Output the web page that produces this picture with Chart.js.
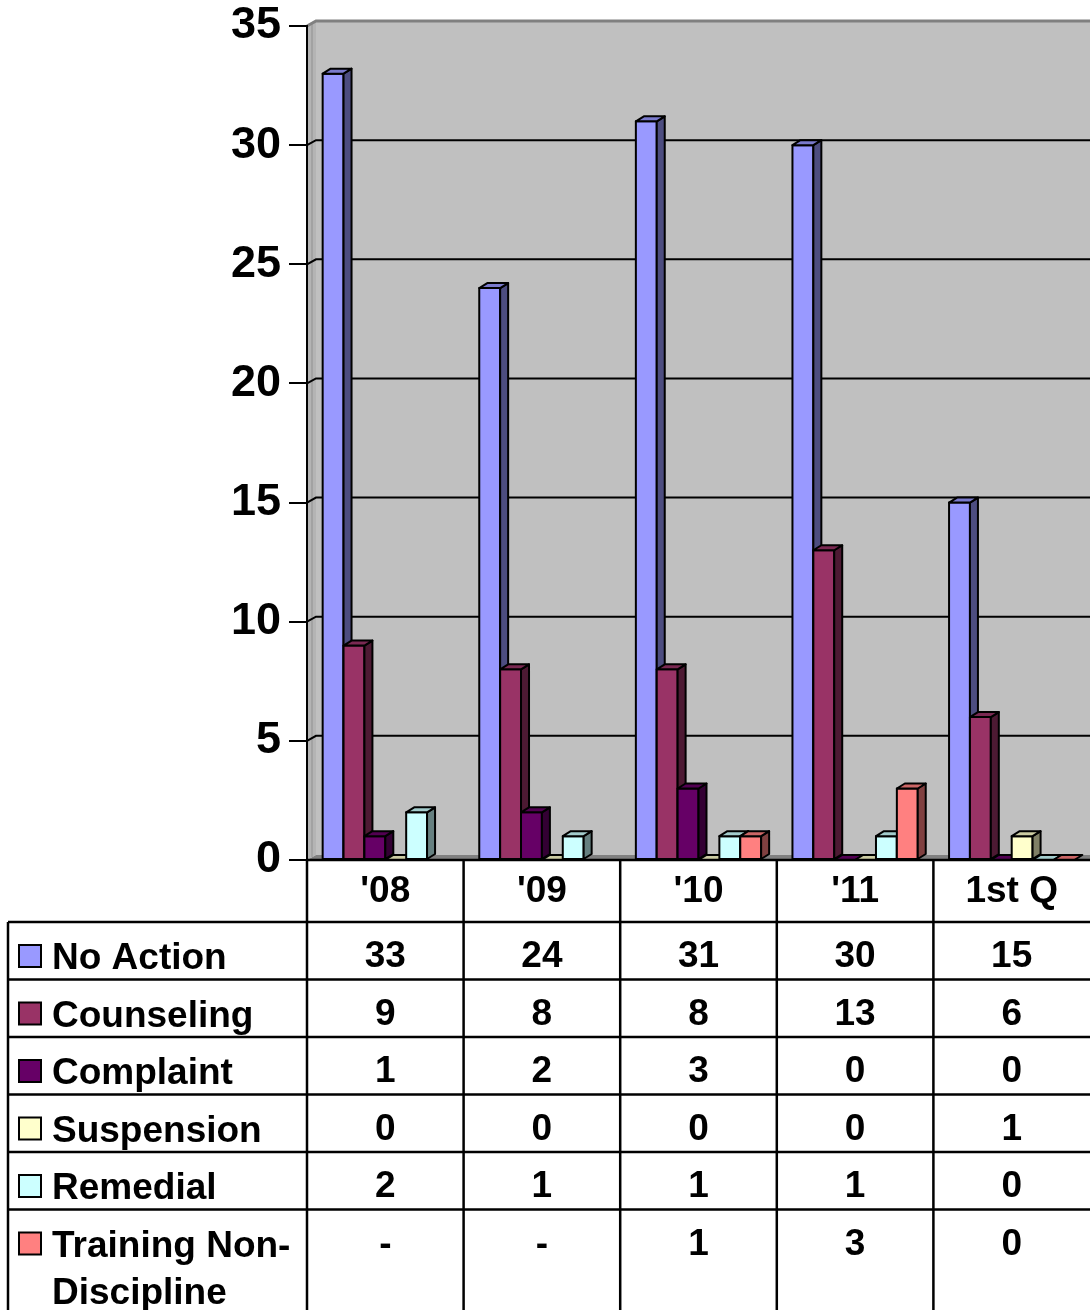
<!DOCTYPE html>
<html>
<head>
<meta charset="utf-8">
<script src="https://cdn.jsdelivr.net/npm/chart.js@4.4.1/dist/chart.umd.min.js"></script>
<style>
  html, body { margin: 0; padding: 0; background: #fff; }
  #wrap { width: 1090px; height: 1310px; position: relative; }
</style>
</head>
<body>
<div id="wrap"><canvas id="chart"></canvas></div>
<script>
// data
const categories = ["'08", "'09", "'10", "'11", "1st Q"];
const noAction   = [33, 24, 31, 30, 15];
const counseling = [9, 8, 8, 13, 6];
const complaint  = [1, 2, 3, 0, 0];
const suspension = [0, 0, 0, 0, 1];
const remedial   = [2, 1, 1, 1, 0];
const training   = [null, null, 1, 3, 0];   // shown as "-" in the table
const seriesNames = ['No Action', 'Counseling', 'Complaint', 'Suspension', 'Remedial', 'Training Non-Discipline'];
const yMin = 0, yMax = 35, yStep = 5;

const seriesData = [noAction, counseling, complaint, suspension, remedial, training];
const colors = [[153,153,255],[153,51,102],[102,0,102],[255,255,204],[204,255,255],[255,128,128]];
const FONT = 'Arial, "Liberation Sans", sans-serif';
const DX = 8, DY = 5;       // bar depth
const WX = 9, WY = 5;       // wall depth

function rgb(c, k) {
  return 'rgb(' + c.map(v => Math.round(v * k)).join(',') + ')';
}

function poly(ctx, pts, fill) {
  ctx.beginPath();
  ctx.moveTo(pts[0][0], pts[0][1]);
  for (let i = 1; i < pts.length; i++) ctx.lineTo(pts[i][0], pts[i][1]);
  ctx.closePath();
  ctx.fillStyle = fill;
  ctx.fill();
  ctx.stroke();
}

const bar3d = {
  id: 'bar3d',
  beforeDraw(chart) {
    const ctx = chart.ctx;
    const a = chart.chartArea;
    const y = chart.scales.y;
    ctx.save();
    // back wall
    ctx.fillStyle = '#c0c0c0';
    ctx.fillRect(a.left + WX, a.top - WY, a.right - a.left - WX, a.bottom - a.top);
    // side wall
    ctx.beginPath();
    ctx.moveTo(a.left, a.bottom);
    ctx.lineTo(a.left, a.top);
    ctx.lineTo(a.left + WX, a.top - WY);
    ctx.lineTo(a.left + WX, a.bottom - WY);
    ctx.closePath();
    ctx.fillStyle = '#b4b4b4';
    ctx.fill();
    ctx.strokeStyle = '#909090';
    ctx.lineWidth = 1;
    ctx.beginPath();
    ctx.moveTo(a.left + 5, a.bottom - 3);
    ctx.lineTo(a.left + 5, a.top - 3);
    ctx.stroke();
    // floor
    ctx.beginPath();
    ctx.moveTo(a.left, a.bottom);
    ctx.lineTo(a.left + WX, a.bottom - WY);
    ctx.lineTo(a.right, a.bottom - WY);
    ctx.lineTo(a.right, a.bottom);
    ctx.closePath();
    ctx.fillStyle = '#808080';
    ctx.fill();
    // top edge of wall
    ctx.strokeStyle = '#808080';
    ctx.lineWidth = 3;
    ctx.beginPath();
    ctx.moveTo(a.left, a.top);
    ctx.lineTo(a.left + WX, a.top - WY);
    ctx.lineTo(a.right, a.top - WY);
    ctx.stroke();
    // gridlines on the back wall
    ctx.strokeStyle = '#000';
    ctx.lineWidth = 2;
    for (let v = yMin + yStep; v < yMax; v += yStep) {
      const py = y.getPixelForValue(v);
      ctx.beginPath();
      ctx.moveTo(a.left, py);
      ctx.lineTo(a.left + WX, py - WY);
      ctx.lineTo(a.right, py - WY);
      ctx.stroke();
    }
    ctx.restore();
  },
  afterDatasetsDraw(chart) {
    const ctx = chart.ctx;
    ctx.save();
    ctx.strokeStyle = '#000';
    ctx.lineWidth = 2;
    ctx.lineJoin = 'round';
    for (let i = 0; i < categories.length; i++) {
      for (let d = 0; d < seriesData.length; d++) {
        if (seriesData[d][i] === null) continue;
        const el = chart.getDatasetMeta(d).data[i];
        const x1 = el.x - el.width / 2, x2 = el.x + el.width / 2;
        const top = el.y, base = el.base;
        const c = colors[d];
        if (base - top > 0.5) {
          poly(ctx, [[x1, top], [x2, top], [x2, base], [x1, base]], rgb(c, 1));
          poly(ctx, [[x2, top], [x2 + DX, top - DY], [x2 + DX, base - DY], [x2, base]], rgb(c, 0.5));
        }
        poly(ctx, [[x1, top], [x1 + DX, top - DY], [x2 + DX, top - DY], [x2, top]], rgb(c, 0.8));
      }
    }
    ctx.restore();
  },
  afterDraw(chart) {
    // data table under the plot
    const ctx = chart.ctx;
    const a = chart.chartArea;
    const xs = chart.scales.x;
    const catW = (a.right - a.left) / categories.length;
    const headTop = a.bottom, headBot = 922, rowH = 57.5, tableLeft = 8;
    const bottom = chart.height;
    ctx.save();
    ctx.strokeStyle = '#000';
    ctx.lineWidth = 2.5;
    ctx.fillStyle = '#000';
    ctx.font = 'bold 37px ' + FONT;
    ctx.textBaseline = 'middle';

    // horizontal lines
    ctx.beginPath();
    ctx.moveTo(a.left, headTop); ctx.lineTo(a.right, headTop);
    for (let r = 0; r < seriesNames.length; r++) {
      const ry = headBot + r * rowH;
      ctx.moveTo(tableLeft, ry); ctx.lineTo(a.right, ry);
    }
    // vertical lines
    ctx.moveTo(tableLeft, headBot); ctx.lineTo(tableLeft, bottom);
    for (let i = 0; i < categories.length; i++) {
      const lx = a.left + i * catW;
      ctx.moveTo(lx, headTop); ctx.lineTo(lx, bottom);
    }
    ctx.stroke();

    // header
    ctx.textAlign = 'center';
    categories.forEach((c, i) => {
      ctx.fillText(c, xs.getPixelForValue(i), headTop + 32);
    });

    // rows
    seriesNames.forEach((name, r) => {
      const ry = headBot + r * rowH;
      const cy = ry + 37;
      // legend key
      ctx.lineWidth = 2;
      ctx.fillStyle = rgb(colors[r], 1);
      ctx.fillRect(19, cy - 14, 22, 22);
      ctx.strokeRect(19, cy - 14, 22, 22);
      ctx.fillStyle = '#000';
      ctx.textAlign = 'left';
      if (name === 'Training Non-Discipline') {
        ctx.fillText('Training Non-', 52, cy);
        ctx.fillText('Discipline', 52, cy + 47);
      } else {
        ctx.fillText(name, 52, cy);
      }
      ctx.textAlign = 'center';
      seriesData[r].forEach((v, i) => {
        ctx.fillText(v === null ? '-' : String(v), xs.getPixelForValue(i), cy - 2);
      });
    });
    ctx.restore();
  }
};

new Chart(document.getElementById('chart'), {
  type: 'bar',
  data: {
    labels: categories,
    datasets: seriesData.map((arr, d) => ({
      label: seriesNames[d],
      data: arr,
      backgroundColor: 'rgba(0,0,0,0)',
      borderWidth: 0
    }))
  },
  options: {
    responsive: true,
    maintainAspectRatio: false,
    animation: false,
    layout: { padding: { top: 26, bottom: 450, left: 0, right: 0 } },
    plugins: {
      legend: { display: false },
      tooltip: { enabled: false }
    },
    datasets: {
      bar: { categoryPercentage: 0.8, barPercentage: 1.0 }
    },
    scales: {
      x: { display: false },
      y: {
        min: yMin,
        max: yMax,
        afterFit: (s) => { s.width = 307; s.paddingTop = 0; s.paddingBottom = 0; },
        ticks: {
          stepSize: yStep,
          color: '#000',
          padding: 8,
          font: { family: FONT, size: 45, weight: 'bold' }
        },
        grid: {
          drawOnChartArea: false,
          color: '#000',
          lineWidth: 2,
          tickLength: 18
        },
        border: { display: true, color: '#000', width: 2 }
      }
    }
  },
  plugins: [bar3d]
});
</script>
</body>
</html>
